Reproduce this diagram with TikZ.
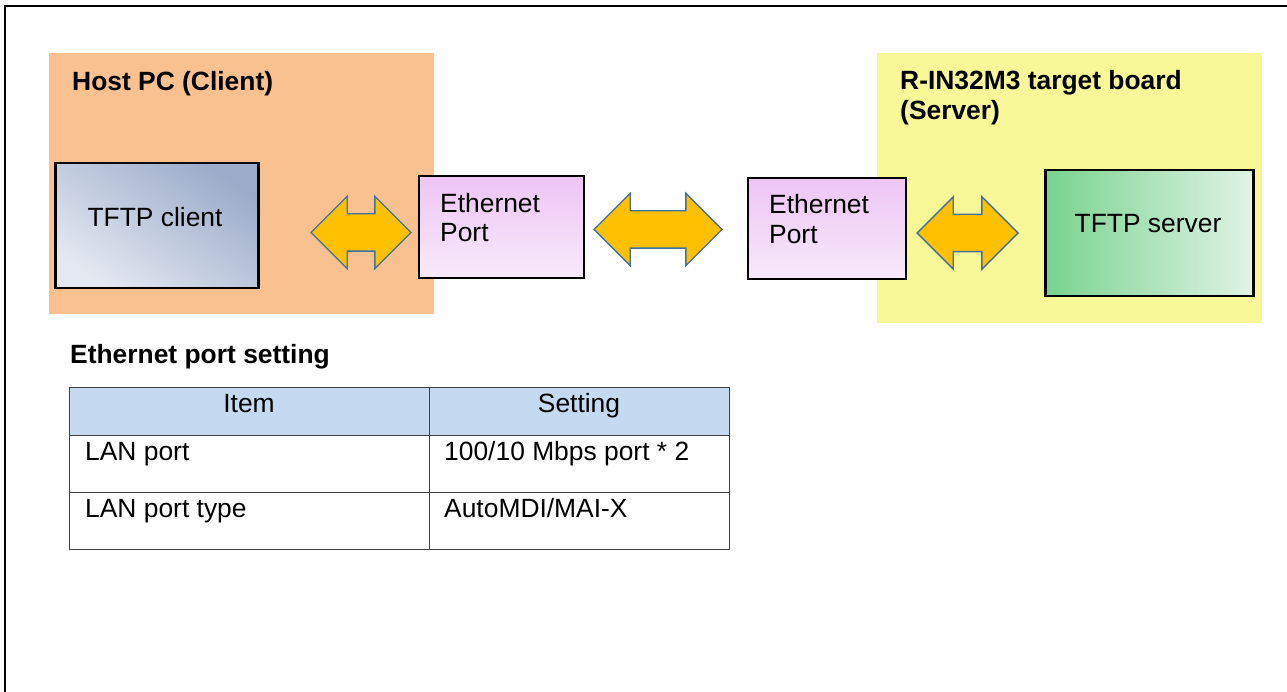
\documentclass[tikz,border=0pt]{standalone}
\usepackage{fontspec}
\setmainfont{Liberation Sans}
\usetikzlibrary{shapes.arrows}
\definecolor{orangebg}{RGB}{249,193,143}
\definecolor{yellowbg}{RGB}{249,248,153}
\definecolor{arrowfill}{RGB}{255,192,0}
\definecolor{arrowline}{RGB}{65,113,156}
\definecolor{ethtop}{RGB}{237,197,244}
\definecolor{ethbot}{RGB}{248,234,251}
\definecolor{clientdark}{RGB}{155,172,202}
\definecolor{clientlight}{RGB}{228,232,241}
\definecolor{serverleft}{RGB}{120,211,142}
\definecolor{serverright}{RGB}{225,243,230}
\definecolor{hdr}{RGB}{197,217,241}
\definecolor{tablegrey}{RGB}{64,64,64}
\begin{document}
\begin{tikzpicture}[x=1pt,y=-1pt,
  txt/.style={inner sep=0pt, font=\fontsize{26.4}{31}\selectfont},
  boldtxt/.style={inner sep=0pt, font=\fontsize{26.4}{31}\selectfont\bfseries},
  area/.style={draw=none, inner sep=0pt, anchor=north west},
  blockarrow/.style={double arrow, draw=arrowline, fill=arrowfill, line width=1.4pt,
    inner xsep=0pt, inner ysep=18pt, double arrow head extend=17.5pt,
    double arrow tip angle=90, minimum width=71pt},
  box/.style={draw=black, line width=2.5pt, inner sep=0pt, anchor=north west},
  portbox/.style={box, line width=2pt, top color=ethtop, bottom color=ethbot},
  cell/.style={draw=tablegrey, line width=1.2pt, inner sep=0pt, anchor=north west}
]
\useasboundingbox (0,0) rectangle (1287,692);
\fill[white] (0,0) rectangle (1287,692);
\draw[line width=2.5pt] (5,692) -- (5,6) -- (1287,6);

% regions
\node[area, fill=orangebg, minimum width=385pt, minimum height=261pt] (host) at (49,53) {};
\node[area, fill=yellowbg, minimum width=385pt, minimum height=270pt] (target) at (877,53) {};

% boxes
\node[box, top color=clientdark, bottom color=clientlight, shading angle=-35,
      minimum width=203pt, minimum height=125pt] (client) at (54,162) {};
\node[portbox, minimum width=165pt, minimum height=102pt] (eth1) at (418,175) {};
\node[portbox, minimum width=158pt, minimum height=101pt] (eth2) at (747,177) {};
\node[box, left color=serverleft, right color=serverright,
      minimum width=208pt, minimum height=126pt] (server) at (1044,169) {};

% block arrows
\node[blockarrow, minimum height=100pt] (a1) at (361,232.5) {};
\node[blockarrow, minimum height=128pt] (a2) at (658,229.5) {};
\node[blockarrow, minimum height=101pt, minimum width=72pt] (a3) at (967.5,233) {};

% texts
\node[boldtxt, anchor=base west] (hosttitle) at (72,91) {Host PC (Client)};
\node[boldtxt, anchor=base west] (tgt1) at (900,90) {R-IN32M3 target board};
\node[boldtxt, anchor=base west] (tgt2) at (900,120) {(Server)};
\node[txt, anchor=base] (clientt) at (155,227) {TFTP client};
\node[txt, anchor=base west] (e1a) at (440,213) {Ethernet};
\node[txt, anchor=base west] (e1b) at (440,242) {Port};
\node[txt, anchor=base west] (e2a) at (769,214) {Ethernet};
\node[txt, anchor=base west] (e2b) at (769,244) {Port};
\node[txt, anchor=base] (servert) at (1148,233) {TFTP server};

% table
\node[boldtxt, anchor=base west] (tabtitle) at (70,363) {Ethernet port setting};
\node[cell, fill=hdr, minimum width=360pt, minimum height=48pt] (c11) at (69,387) {};
\node[cell, fill=hdr, minimum width=300pt, minimum height=48pt] (c12) at (429,387) {};
\node[cell, minimum width=360pt, minimum height=57pt] (c21) at (69,435) {};
\node[cell, minimum width=300pt, minimum height=57pt] (c22) at (429,435) {};
\node[cell, minimum width=360pt, minimum height=57pt] (c31) at (69,492) {};
\node[cell, minimum width=300pt, minimum height=57pt] (c32) at (429,492) {};
\node[txt, anchor=base] (t11) at (249,412) {Item};
\node[txt, anchor=base] (t12) at (579,412) {Setting};
\node[txt, anchor=base west] (t21) at (85,460) {LAN port};
\node[txt, anchor=base west] (t22) at (444,460) {100/10 Mbps port * 2};
\node[txt, anchor=base west] (t31) at (85,517) {LAN port type};
\node[txt, anchor=base west] (t32) at (444,517) {AutoMDI/MAI-X};
\end{tikzpicture}
\end{document}
